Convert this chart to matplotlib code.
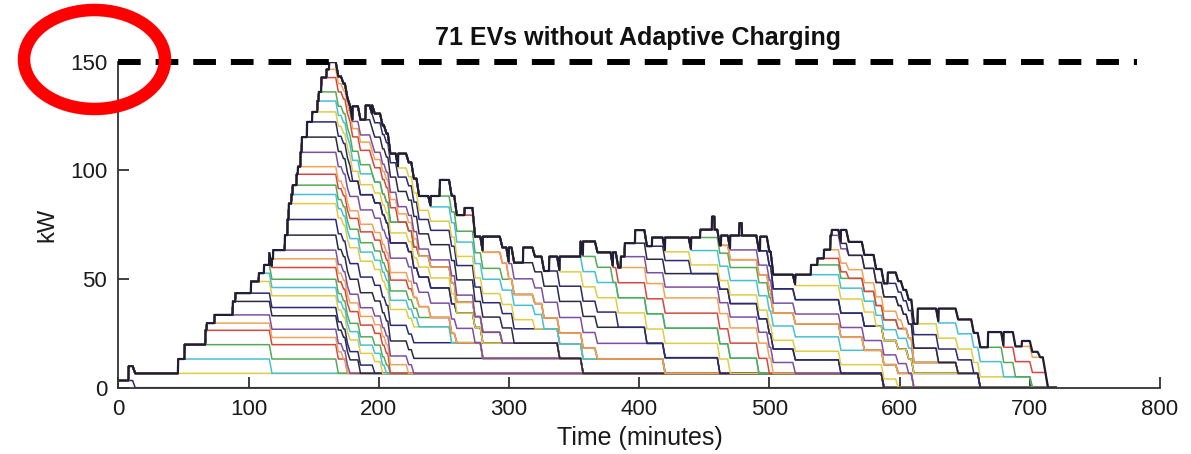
import numpy as np
import matplotlib
matplotlib.use("Agg")
import matplotlib.pyplot as plt
from matplotlib.patches import Ellipse

plt.rcParams["font.family"] = ["Liberation Sans", "DejaVu Sans"]

# charging sessions of the 71 EVs, in arrival order
ARRIVE = [0, 8, 46, 51, 67, 68, 74, 88, 90, 102, 108, 112, 116, 118, 119, 128, 130, 131,
          133, 134, 137, 138, 140, 141, 145, 149, 153, 154, 156, 160, 162, 180, 190, 195,
          215, 240, 247, 266, 280, 300, 311, 331, 339, 355, 357, 380, 386, 389, 397, 410,
          420, 440, 447, 456, 463, 470, 477, 493, 520, 532, 537, 542, 547, 548, 555, 591,
          614, 630, 668, 680, 694]
DEPART = [13, 588, 118, 169, 176, 173, 178, 186, 197, 203, 206, 209, 209, 223, 227, 357,
          280, 256, 231, 260, 240, 227, 274, 339, 180, 260, 295, 195, 215, 231, 274, 304,
          420, 320, 327, 368, 300, 274, 462, 406, 384, 470, 492, 380, 500, 503, 520, 555,
          440, 599, 611, 573, 503, 458, 607, 662, 479, 582, 645, 611, 561, 603, 630, 561,
          657, 702, 680, 689, 714, 712, 708]
POWER = [3.3, 6.6, 6.6, 6.6, 6.6, 3.3, 3.8, 6.2, 3.8, 5.4, 3.8, 3.8, 5.4, 4.0, 4.0, 6.9,
         7.2, 7.3, 4.2, 4.3, 5.0, 3.5, 6.6, 7.0, 7.0, 4.6, 5.0, 4.2, 6.6, 3.8, 3.3, 7.0,
         6.6, 4.2, 6.6, 5.0, 7.4, 3.3, 7.2, 7.4, 7.0, 6.6, 7.0, 7.0, 6.9, 7.0, 5.0, 6.2,
         6.0, 4.0, 6.6, 6.0, 3.6, 6.0, 4.5, 6.6, 5.7, 6.5, 5.0, 4.5, 3.0, 4.0, 6.6, 2.5,
         6.2, 5.0, 7.0, 6.6, 7.0, 7.0, 2.5]
CAP_KW = 150
T_END = 720
TAPER_MIN = 2  # charging tails off over the last couple of minutes

COLORS = ["#2a2a70", "#e0cc45", "#48c0d4", "#55aa55", "#d6483f", "#f0a458",
          "#7d4fa2", "#2b2b40"]

a = np.array(ARRIVE, dtype=float)
d = np.array(DEPART, dtype=float)
p = np.array(POWER)
t = np.arange(0, T_END + 0.25, 0.25)
taper = np.clip((d[:, None] - t[None, :]) / TAPER_MIN, 0, 1)
short = (d - a) <= TAPER_MIN
taper[short] = (t[None, :] < d[short, None]).astype(float)
power = np.where(t[None, :] >= a[:, None], taper, 0.0) * p[:, None]
stack = np.cumsum(power, axis=0)  # one cumulative line per EV

fig = plt.figure(figsize=(11.91, 4.54), dpi=100)
ax = fig.add_axes([118.3 / 1191, 1 - 387.7 / 454, (1160 - 118.3) / 1191, (387.7 - 61.7) / 454])

n = len(a)
for k in range(n):
    c = COLORS[k % len(COLORS)] if k < n - 1 else "#1e1e38"
    lw = 1.1 if k < n - 1 else 1.6
    ax.plot(t, stack[k], color=c, lw=lw)

ax.plot([0, 782], [CAP_KW, CAP_KW], color="black", lw=4.3, ls=(0, (3.8, 2.5)),
        clip_on=False, zorder=5)

ax.set_xlim(0, 800)
ax.set_ylim(0, 150)
ax.set_xticks(range(0, 801, 100))
ax.set_yticks([0, 50, 100, 150])
for s in ["top", "right"]:
    ax.spines[s].set_visible(False)
for s in ["left", "bottom"]:
    ax.spines[s].set_color("#333333")
    ax.spines[s].set_linewidth(1.3)
ax.tick_params(direction="in", length=8, width=1.3, color="#333333",
               labelsize=16, labelcolor="#1a1a1a", pad=8)

fig.text(638 / 1191, 1 - 38 / 454, "71 EVs without Adaptive Charging",
         ha="center", va="center", fontsize=18, fontweight="bold", color="#111111")
fig.text(640 / 1191, 1 - 438 / 454, "Time (minutes)", ha="center", va="center",
         fontsize=18, color="#1a1a1a")
fig.text(47 / 1191, 1 - 225 / 454, "kW", ha="center", va="center", rotation=90,
         fontsize=17, color="#1a1a1a")

ring = Ellipse((94.5 / 1191, 1 - 59.5 / 454), 141 / 1191, 99 / 454,
               transform=fig.transFigure, fill=False, edgecolor="#ff0000", lw=9,
               zorder=10)
fig.patches.append(ring)

fig.savefig("out.png", dpi=100, facecolor="white")
